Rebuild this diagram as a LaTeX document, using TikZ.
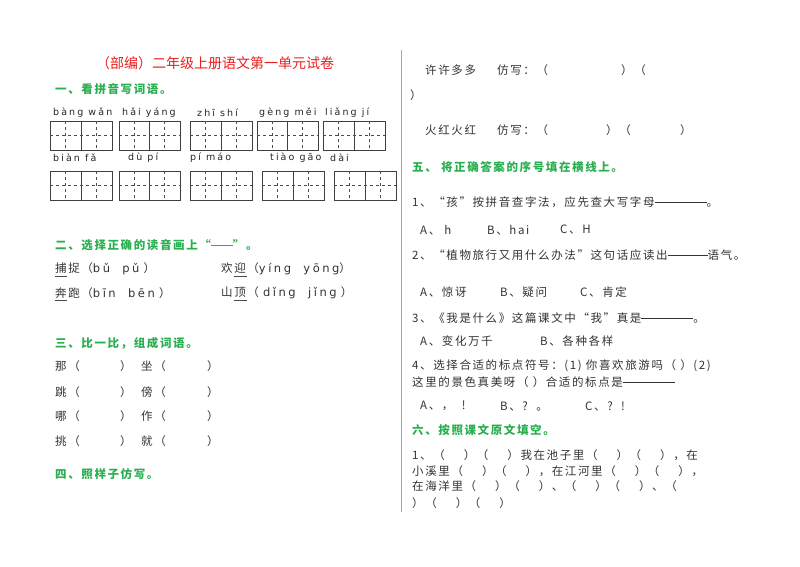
\documentclass[tikz,border=0pt]{standalone}
\usepackage{fontspec}
\setmainfont{Noto Sans CJK SC}
\newfontfamily\zh{Noto Sans CJK SC}[LetterSpace=14]
\newfontfamily\pyf{DejaVu Sans}[LetterSpace=22]
\definecolor{tgreen}{RGB}{40,175,80}
\definecolor{tred}{RGB}{235,30,30}
\newcommand\dl[1]{\rule[0.32em]{#1}{0.7pt}}
\newcommand\gp{\hspace*{19pt}}
\newcommand\tzbox[3]{% x, y, width
  \draw[line width=0.9pt,black!75] (#1,#2) rectangle ++(#3,29);
  \draw[line width=0.9pt,black!75] ({#1+#3/2},#2) -- ++(0,29);
  \draw[dashed,black!70,line width=0.6pt] (#1,{#2+14.5}) -- ++(#3,0);
  \draw[dashed,black!70,line width=0.6pt] ({#1+#3/4},#2) -- ++(0,29);
  \draw[dashed,black!70,line width=0.6pt] ({#1+3*#3/4},#2) -- ++(0,29);
}
\begin{document}
\begin{tikzpicture}[x=1pt,y=-1pt,
  t/.style={anchor=west,inner sep=0pt,text=black!80,font=\zh\fontsize{11.5}{13}\selectfont},
  py/.style={anchor=west,inner sep=0pt,text=black!85,font=\pyf\fontsize{9.5}{12}\selectfont},
  h/.style={anchor=west,inner sep=0pt,text=tgreen,font=\zh\bfseries\fontsize{11.5}{13}\selectfont}]
\useasboundingbox (0,0) rectangle (800,566);
\fill[white] (0,0) rectangle (800,566);
\draw[black!35,line width=0.8pt] (401,50) -- (401,512);
% title
\node[anchor=center,inner sep=0pt,text=tred,font=\fontsize{14}{16}\selectfont] (title) at (215,63) {（部编）二年级上册语文第一单元试卷};
\node[h] (s1) at (55,89) {一、看拼音写词语。};
% pinyin
\node[py] (p1) at (53,113) {bàng wǎn};
\node[py] (p2) at (122,113) {hǎi yáng};
\node[py] (p3) at (197,113) {zhī shí};
\node[py] (p4) at (259,113) {gèng měi};
\node[py] (p5) at (325,113) {liǎng jí};
\node[py] (p6) at (53,158) {biàn fǎ};
\node[py] (p7) at (128,158) {dù pí};
\node[py] (p8) at (190,158) {pí máo};
\node[py] (p9) at (270,158) {tiào gāo};
\node[py] (p10) at (330,158) {dài};
\tzbox{50}{121}{62}\tzbox{119}{121}{61}\tzbox{190}{121}{62}\tzbox{257}{121}{61}\tzbox{323}{121}{62}
\tzbox{50}{171}{62}\tzbox{119}{171}{61}\tzbox{190}{171}{62}\tzbox{262}{171}{62}\tzbox{334}{171}{62}
% section 2
\node[h] (s2) at (55,245) {二、选择正确的读音画上“\dl{22pt}”。};
\node[t] (a1) at (55,269) {捕捉（{\pyf bǔ\ \ pǔ} ）};
\node[t] (a2) at (221,269) {欢迎（{\pyf yíng\ \ yōng}）};
\node[t] (a3) at (55,293) {奔跑（{\pyf bīn\ \ bēn} ）};
\node[t] (a4) at (221,293) {山顶（ {\pyf dǐng\ \ jǐng} ）};
\draw[black!70] (55,276) -- (67,276);
\draw[black!70] (234,276) -- (247,276);
\draw[black!70] (55,300) -- (67,300);
\draw[black!70] (234,300) -- (247,300);
% section 3
\node[h] (s3) at (55,343) {三、比一比，组成词语。};
\foreach \y/\a/\b [count=\i] in {366/那/坐,392/跳/傍,416/哪/作,441/挑/就}{
  \node[t] (l\i) at (55,\y) {\a（};
  \node[t] (m\i) at (120,\y) {）};
  \node[t] (n\i) at (141,\y) {\b（};
  \node[t] (o\i) at (207,\y) {）};
}
\node[h] (s4) at (55,474) {四、照样子仿写。};
% right column
\node[t] (r1) at (425,70) {许许多多};
\node[t] (r1b) at (497,70) {仿写：（};
\node[t] (r1c) at (621,70) {）（};
\node[t] (r1d) at (410,95) {）};
\node[t] (r2) at (425,130) {火红火红};
\node[t] (r2b) at (497,130) {仿写：（};
\node[t] (r2c) at (606,130) {）（};
\node[t] (r2d) at (680,130) {）};
\node[h] (s5) at (412,167) {五、\ 将正确答案的序号填在横线上。};
\node[t] (q1) at (412,202) {1、“孩”按拼音查字法，应先查大写字母\dl{52pt}。};
\node[t] (q1a) at (420,230) {A、 h};
\node[t] (q1b) at (487,230) {B、hai};
\node[t] (q1c) at (560,230) {C、H};
\node[t] (q2) at (412,255) {2、“植物旅行又用什么办法”这句话应读出\dl{40pt}语气。};
\node[t] (q2a) at (420,292) {A、惊讶};
\node[t] (q2b) at (500,292) {B、疑问};
\node[t] (q2c) at (580,292) {C、肯定};
\node[t] (q3) at (412,318) {3、《我是什么》这篇课文中“我”真是\dl{52pt}。};
\node[t] (q3a) at (420,341) {A、变化万千};
\node[t] (q3b) at (540,341) {B、各种各样};
\node[t] (q4) at (412,366) {4、选择合适的标点符号：(1) 你喜欢旅游吗（ ）(2)};
\node[t] (q4l) at (412,382) {这里的景色真美呀（ ）合适的标点是\dl{52pt}};
\node[t] (q4a) at (420,406) {A、，\ \ !};
\node[t] (q4b) at (500,406) {B、?\ \ 。};
\node[t] (q4c) at (585,406) {C、?\ \ !};
\node[h] (s6) at (412,430) {六、按照课文原文填空。};
\node[t] (f1) at (412,455) {1、（\gp）（\gp）我在池子里（\gp）（\gp），在};
\node[t] (f2) at (412,471) {小溪里（\gp）（\gp），在江河里（\gp）（\gp），};
\node[t] (f3) at (412,486) {在海洋里（\gp）（\gp）、（\gp）（\gp）、（};
\node[t] (f4) at (412,503) {）（\gp）（\gp）};
\end{tikzpicture}
\end{document}
